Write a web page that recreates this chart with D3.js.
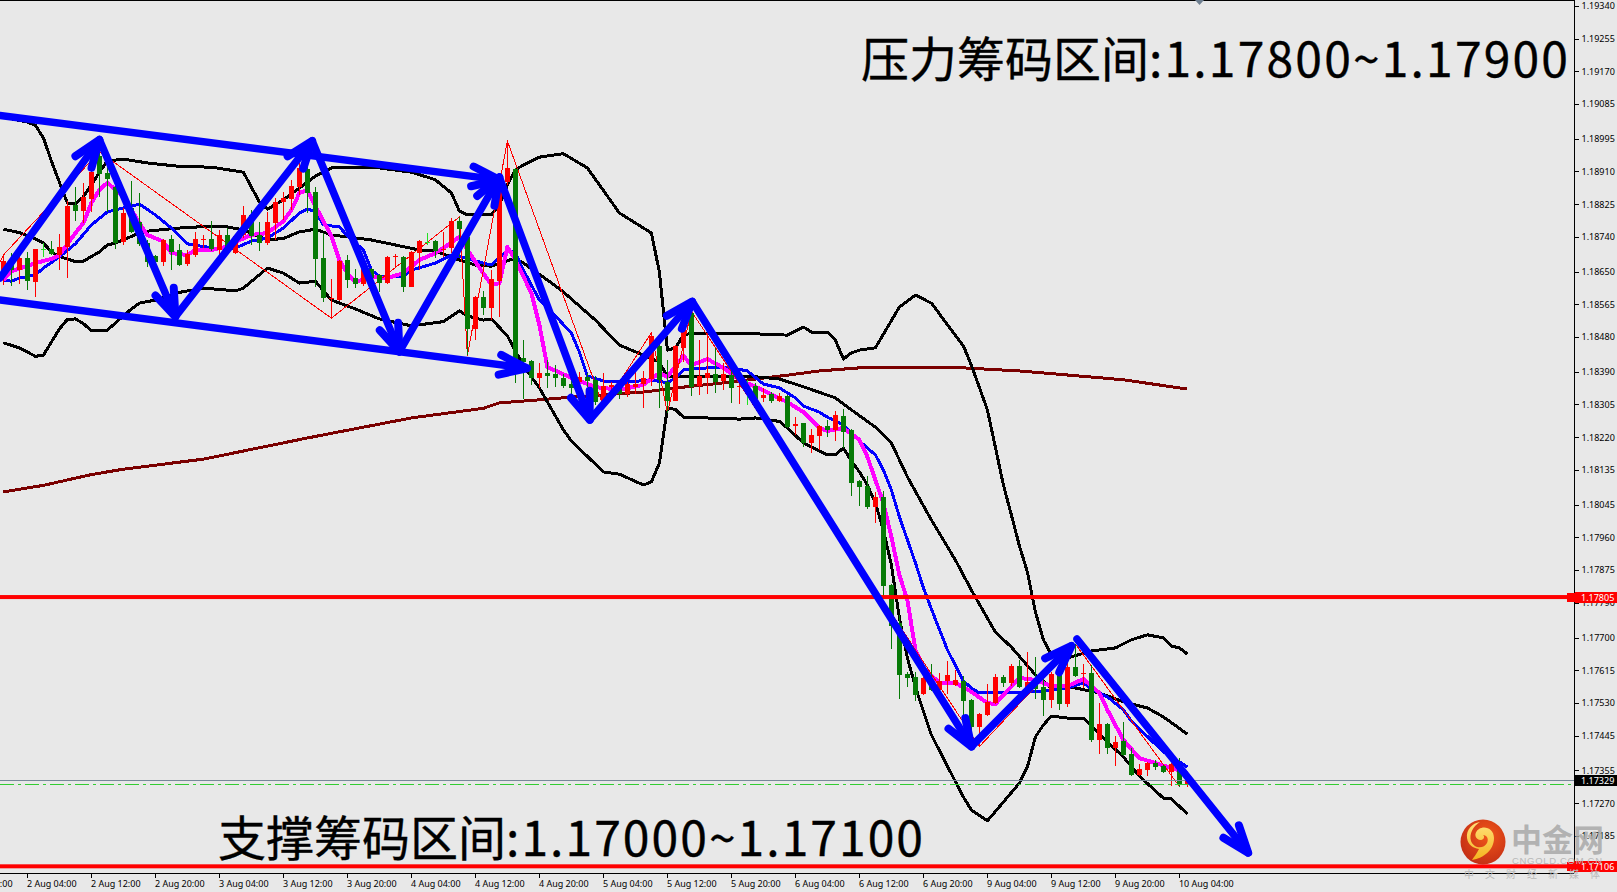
<!DOCTYPE html>
<html><head><meta charset="utf-8">
<style>
html,body{margin:0;padding:0;background:#e8e8e8;overflow:hidden}
svg{display:block}
.axis text{font-family:"Noto Sans",sans-serif;font-size:9px;fill:#000}
.axis path,.axis line{stroke:#000;stroke-width:1;shape-rendering:crispEdges}
.ind{fill:none;shape-rendering:crispEdges}
</style>
<script src="https://cdn.jsdelivr.net/npm/d3@7/dist/d3.min.js"></script>
</head><body>
<div id="chart"></div>
<script>
// All prices below are in points (1e-5 of EURUSD quote); bar = H1 candle number.
const opens=[118641,118678,118654,118686,118623,118708,118708,118693,118715,118823,118808,118838,118951,118905,118870,118728,118814,118779,118725,118691,118676,118735,118706,118670,118693,118732,118735,118706,118745,118697,118745,118797,118745,118725,118775,118830,118838,118870,118915,118857,118686,118578,118576,118680,118633,118618,118657,118641,118620,118688,118688,118611,118699,118728,118729,118706,118710,118781,118739,118501,118584,118556,118626,118883,118916,118425,118418,118374,118387,118384,118374,118358,118363,118376,118369,118314,118350,118356,118332,118350,118358,118371,118457,118364,118315,118451,118542,118353,118374,118384,118366,118381,118350,118348,118353,118322,118332,118315,118327,118250,118256,118206,118224,118249,118239,118275,118239,118106,118093,118039,118066,117836,117738,117605,117598,117553,117585,117564,117587,117577,117587,117538,117468,117499,117529,117598,117582,117626,117569,117587,117572,117538,117605,117527,117623,117604,117608,117434,117475,117413,117431,117398,117343,117356,117374,117366,117351,117356,117320];
const highs=[118693,118697,118702,118702,118709,118723,118729,118748,118834,118870,118879,118940,118961,118927,118872,118814,118886,118855,118732,118693,118734,118745,118722,118706,118754,118745,118782,118758,118762,118748,118820,118810,118779,118805,118841,118857,118888,118932,118940,118870,118750,118631,118680,118693,118657,118660,118660,118643,118690,118696,118690,118703,118732,118750,118731,118754,118789,118792,118745,118586,118600,118654,118880,118989,118919,118472,118420,118412,118420,118407,118384,118369,118388,118387,118379,118387,118364,118361,118364,118390,118393,118491,118481,118420,118459,118535,118547,118472,118490,118451,118412,118403,118377,118369,118361,118348,118338,118335,118329,118273,118258,118241,118252,118265,118288,118293,118241,118108,118119,118079,118080,117838,117758,117611,117611,117598,117631,117609,117639,117616,117600,117540,117503,117579,117605,117603,117631,117642,117662,117649,117608,117611,117607,117645,117683,117631,117629,117530,117478,117444,117481,117413,117372,117376,117382,117369,117374,117387,117335];
const lows=[118615,118613,118618,118602,118583,118687,118693,118654,118633,118781,118775,118805,118844,118804,118709,118719,118751,118716,118661,118674,118664,118654,118664,118664,118689,118710,118704,118680,118697,118696,118736,118719,118704,118719,118732,118784,118810,118849,118802,118609,118572,118529,118574,118607,118607,118613,118620,118598,118618,118662,118598,118609,118654,118719,118685,118687,118698,118689,118433,118472,118537,118524,118533,118875,118360,118319,118356,118347,118348,118350,118348,118325,118350,118350,118304,118299,118325,118319,118325,118332,118296,118354,118295,118284,118313,118416,118327,118330,118332,118334,118343,118308,118306,118304,118318,118311,118310,118311,118245,118226,118194,118178,118187,118221,118211,118192,118067,118041,118034,117998,117806,117669,117540,117571,117536,117551,117562,117561,117553,117575,117496,117439,117417,117497,117527,117572,117574,117569,117564,117540,117495,117517,117512,117520,117598,117569,117430,117398,117398,117366,117393,117340,117340,117340,117356,117348,117315,117313,117313];
const closes=[118677,118654,118686,118626,118709,118708,118696,118713,118821,118808,118844,118909,118903,118890,118723,118801,118754,118722,118676,118676,118732,118701,118667,118696,118735,118734,118708,118745,118702,118742,118797,118742,118723,118779,118831,118842,118872,118918,118853,118683,118582,118581,118678,118628,118618,118657,118633,118620,118688,118690,118611,118701,118729,118728,118704,118709,118781,118761,118501,118584,118555,118631,118870,118918,118422,118414,118373,118387,118379,118374,118352,118348,118376,118366,118311,118353,118356,118332,118358,118359,118374,118483,118369,118314,118457,118504,118350,118379,118386,118363,118384,118348,118353,118348,118320,118330,118314,118327,118247,118254,118204,118226,118249,118239,118278,118234,118102,118091,118038,118066,117834,117730,117603,117596,117551,117595,117564,117587,117603,117590,117535,117468,117501,117533,117598,117582,117626,117571,117585,117566,117538,117605,117527,117623,117600,117607,117434,117475,117413,117429,117395,117343,117359,117374,117363,117351,117372,117320,117330];

const bbUpperBars=[0,3,4,5,6,7,8,9,10,11,12,13,15,18,22,26,30,31,32,33,35,37,39,41,43,47,51,53,54,56,57,58,61,62,63,64,65,67,70,73,77,80,81,82,83,84,85,86,92,98,100,101,103,104,105,106,107,109,112,114,116,120,121,123,125,126,127,128,129,130,131,133,136,139,141,143,145,146,147,148];
const bbUpper=[119051,119038,119030,118997,118937,118882,118828,118825,118844,118875,118908,118937,118942,118932,118923,118921,118908,118869,118831,118812,118836,118867,118898,118919,118921,118919,118908,118895,118888,118854,118807,118797,118797,118823,118875,118914,118927,118947,118956,118919,118802,118763,118750,118649,118446,118452,118485,118490,118490,118485,118506,118493,118493,118472,118423,118439,118446,118452,118558,118589,118568,118457,118407,118291,118096,118018,117938,117870,117766,117694,117655,117647,117665,117673,117694,117707,117699,117678,117673,117657];
const bbLowerBars=[0,2,4,5,6,7,8,9,10,11,13,15,16,17,19,22,25,29,30,33,35,37,39,41,44,47,51,55,57,58,60,61,63,65,67,70,71,75,77,80,81,82,83,84,85,92,94,97,98,100,103,104,105,106,107,108,109,110,111,112,113,114,115,116,118,120,121,123,125,127,128,129,130,131,133,135,136,138,140,142,145,146,148];
const bbLower=[118465,118452,118430,118433,118467,118501,118526,118527,118515,118496,118498,118535,118553,118568,118576,118596,118607,118600,118607,118659,118646,118620,118625,118576,118553,118527,118509,118520,118548,118535,118524,118527,118483,118405,118348,118239,118210,118130,118124,118096,118104,118153,118296,118292,118272,118267,118270,118261,118244,118205,118174,118174,118192,118158,118130,118096,118049,117979,117888,117751,117647,117572,117509,117447,117366,117286,117252,117224,117273,117322,117364,117442,117473,117496,117491,117491,117470,117429,117390,117340,117283,117281,117242];
const bbMiddleBars=[0,2,4,5,6,7,9,10,12,13,14,17,18,22,26,28,30,33,35,37,39,41,43,46,49,52,54,57,59,61,64,65,68,70,74,77,80,82,83,85,94,97,100,104,106,109,111,113,116,119,121,124,126,129,131,134,137,140,143,145,148];
const bbMiddle=[118760,118751,118735,118724,118701,118689,118676,118677,118701,118719,118724,118750,118755,118763,118768,118766,118758,118732,118736,118753,118760,118745,118740,118732,118719,118706,118703,118680,118667,118664,118685,118672,118628,118597,118524,118459,118433,118415,118377,118377,118377,118371,118351,118322,118291,118246,118205,118117,118005,117901,117823,117714,117675,117603,117569,117569,117556,117533,117517,117494,117449];
const blueMaBars=[0,1,2,4,5,7,9,11,13,15,17,19,21,23,25,27,29,31,33,35,37,38,39,40,42,43,45,46,47,50,51,54,56,57,60,61,63,64,65,66,67,69,71,72,73,75,78,81,83,84,85,88,91,93,95,97,99,100,102,103,105,107,109,110,111,112,114,115,116,118,120,121,122,125,129,133,135,136,138,140,141,145,148];
const blueMa=[118628,118625,118633,118641,118659,118688,118722,118771,118805,118815,118825,118797,118763,118722,118715,118709,118711,118729,118737,118763,118802,118812,118806,118771,118766,118742,118706,118654,118638,118638,118654,118672,118693,118689,118672,118667,118706,118698,118654,118615,118576,118535,118490,118441,118379,118366,118363,118369,118361,118374,118395,118400,118400,118392,118358,118348,118322,118301,118285,118272,118252,118210,118174,118135,118083,118013,117894,117829,117774,117668,117587,117569,117556,117556,117559,117569,117582,117566,117546,117512,117483,117403,117364];
const magentaMaBars=[0,1,2,4,6,7,9,10,11,12,13,14,15,17,18,20,21,23,24,26,28,29,31,33,35,36,37,38,39,41,42,43,44,46,48,50,52,54,55,57,59,61,62,63,64,66,67,68,71,74,77,80,82,83,85,86,88,90,92,94,98,100,102,103,105,107,108,109,110,111,112,113,114,115,117,119,121,123,124,125,127,129,131,133,135,137,138,140,142,146,148];
const magentaMa=[118628,118651,118658,118672,118683,118693,118750,118776,118828,118862,118881,118862,118846,118776,118745,118728,118698,118693,118706,118706,118715,118727,118745,118750,118781,118810,118854,118862,118820,118742,118680,118646,118623,118636,118633,118646,118680,118698,118711,118740,118675,118615,118620,118714,118680,118594,118511,118402,118374,118350,118343,118356,118387,118377,118431,118407,118423,118400,118369,118351,118311,118285,118244,118236,118244,118213,118169,118109,118049,117961,117862,117797,117668,117621,117582,117582,117559,117530,117527,117551,117595,117590,117574,117574,117592,117556,117512,117434,117387,117361,117348];
const slowMaBars=[0,5,11,15,25,38,51,60,62,67,71,75,80,85,90,94,98,102,107,109,115,120,127,135,140,148];
const slowMa=[118078,118095,118123,118137,118163,118218,118270,118295,118309,118317,118324,118330,118337,118350,118361,118371,118381,118392,118400,118402,118402,118400,118392,118378,118369,118345];
const zigzagBars=[-1,0,12,41,57,58,63,75,81,83,86,122,134,147];
const zigzag=[118649,118693,118961,118529,118792,118433,118989,118299,118491,118284,118547,117417,117683,117313];

const yTickValues=[1.1934,1.19255,1.1917,1.19085,1.18995,1.1891,1.18825,1.1874,1.1865,1.18565,1.1848,1.1839,1.18305,1.1822,1.18135,1.18045,1.1796,1.17875,1.1779,1.177,1.17615,1.1753,1.17445,1.17355,1.1727,1.17185];
const xTickBars=[-5,3,11,19,27,35,43,51,59,67,75,83,91,99,107,115,123,131,139,147];
const xTickLabels=["1 Aug 20:00","2 Aug 04:00","2 Aug 12:00","2 Aug 20:00","3 Aug 04:00","3 Aug 12:00","3 Aug 20:00","4 Aug 04:00","4 Aug 12:00","4 Aug 20:00","5 Aug 04:00","5 Aug 12:00","5 Aug 20:00","6 Aug 04:00","6 Aug 12:00","6 Aug 20:00","9 Aug 04:00","9 Aug 12:00","9 Aug 20:00","10 Aug 04:00"];

const redLevels=[1.17805,1.17106];
const bidPrice=1.17329;
// hand-drawn arrows: [from bar, from price, to bar, to price]
const arrows=[
 [-0.43,119055,62,118888],[-0.43,118576,65.45,118399],
 [-0.43,118633,12,118992],[12,118992,21.5,118533],[21.5,118533,38.6,118989],
 [38.6,118989,49.5,118442],[49.5,118442,62,118895],[62,118895,73.3,118265],
 [73.3,118265,86.1,118572],[86.1,118572,121,117417],[121,117417,133.5,117678],
 [134.2,117696,155.6,117141]];
const titleTopCn="压力筹码区间",titleTopNum=":1.17800~1.17900";
const titleBottomCn="支撑筹码区间",titleBottomNum=":1.17000~1.17100";

const W=1617,H=892,right=1574,bottom=873;
const x=d3.scaleLinear().domain([0,148]).range([3.4,1187.4]);
const y=d3.scaleLinear().domain([1.19355,1.17355]).range([0,770.4]);
const pt=v=>v/1e5;
const svg=d3.select("#chart").append("svg").attr("width",W).attr("height",H);
svg.append("rect").attr("width",W).attr("height",H).attr("fill","#e8e8e8");

const defs=svg.append("defs");
defs.append("clipPath").attr("id","plot").append("rect").attr("width",right).attr("height",bottom);
const grad=defs.append("radialGradient").attr("id","logoG").attr("cx","0.6").attr("cy","0.35").attr("r","0.75");
grad.append("stop").attr("offset","0").attr("stop-color","#f0561a");
grad.append("stop").attr("offset","1").attr("stop-color","#bf2a14");
const grad2=defs.append("linearGradient").attr("id","swirlG").attr("x1","0").attr("y1","0").attr("x2","0").attr("y2","1");
grad2.append("stop").attr("offset","0").attr("stop-color","#ffe27a");
grad2.append("stop").attr("offset","1").attr("stop-color","#f5b31f");

const plot=svg.append("g").attr("clip-path","url(#plot)");
const lineGen=d3.line().x(d=>x(d[0])).y(d=>y(pt(d[1])));
function drawLine(bars,vals,color,w){
  plot.append("path").attr("class","ind").attr("d",lineGen(bars.map((b,k)=>[b,vals[k]])))
    .attr("stroke",color).attr("stroke-width",w).attr("stroke-linejoin","round");
}
drawLine(slowMaBars,slowMa,"#7a0000",3);
drawLine(bbUpperBars,bbUpper,"#000",3);
drawLine(bbLowerBars,bbLower,"#000",3);
drawLine(bbMiddleBars,bbMiddle,"#000",3);
drawLine(blueMaBars,blueMa,"#0000ff",3);
drawLine(magentaMaBars,magentaMa,"#ff00ff",4);
drawLine(zigzagBars,zigzag,"#ff0000",1);

// candles
const colorOf=i=>closes[i]===opens[i]?"#22e022":closes[i]>opens[i]?"#ff0000":"#067a06";
const candles=plot.append("g").selectAll("g").data(opens.map((_,i)=>i)).join("g");
candles.append("rect").attr("x",i=>Math.floor(x(i))).attr("width",1)
  .attr("y",i=>y(pt(highs[i]))).attr("height",i=>y(pt(lows[i]))-y(pt(highs[i])))
  .attr("fill",colorOf).attr("shape-rendering","crispEdges");
candles.append("rect").attr("x",i=>Math.floor(x(i))-2).attr("width",5)
  .attr("y",i=>y(pt(Math.max(opens[i],closes[i]))))
  .attr("height",i=>Math.max(1,Math.abs(y(pt(opens[i]))-y(pt(closes[i])))))
  .attr("fill",colorOf).attr("shape-rendering","crispEdges");

// horizontal levels
plot.selectAll(".lvl").data(redLevels).join("rect").attr("class","lvl").attr("x",0).attr("width",right)
  .attr("y",d=>y(d)-2).attr("height",4).attr("fill","#ff0000");
plot.append("line").attr("x1",0).attr("x2",right).attr("y1",Math.round(y(bidPrice))+.5).attr("y2",Math.round(y(bidPrice))+.5)
  .attr("stroke","#778899").attr("stroke-width",1);
plot.append("line").attr("x1",0).attr("x2",right).attr("y1",y(bidPrice)+4).attr("y2",y(bidPrice)+4)
  .attr("stroke","#32cd32").attr("stroke-width",1).attr("stroke-dasharray","14 4 3 4").attr("shape-rendering","crispEdges");

// axes
const gy=svg.append("g").attr("class","axis").attr("transform",`translate(${right+.5},0)`)
  .call(d3.axisRight(y).tickValues(yTickValues).tickFormat(d3.format(".5f")).tickSize(4).tickPadding(3));
gy.select(".domain").attr("d",`M0,0V${bottom}`);
const gx=svg.append("g").attr("class","axis").attr("transform",`translate(0,${bottom+.5})`)
  .call(d3.axisBottom(x).tickValues(xTickBars).tickFormat((d,k)=>xTickLabels[k]).tickSize(4).tickPadding(3));
gx.select(".domain").attr("d",`M0,0H${right}`);
gx.selectAll("text").attr("text-anchor","start").attr("dx","-1");
svg.append("line").attr("x1",0).attr("x2",right).attr("y1",.5).attr("y2",.5).attr("stroke","#000").attr("shape-rendering","crispEdges");

// shift marker
svg.append("path").attr("d","M1195,0H1204L1199.5,5Z").attr("fill","#6e7f90");

// price tags
const tag=(p,bg,fg)=>{
  const c=Math.round(y(p));
  svg.append("rect").attr("x",1575).attr("y",c-5.5).attr("width",W-1575).attr("height",11).attr("fill",bg).attr("shape-rendering","crispEdges");
  if(bg!=="#000") svg.append("rect").attr("x",1567).attr("y",c-4.5).attr("width",8).attr("height",9).attr("fill",bg).attr("shape-rendering","crispEdges");
  svg.append("text").attr("x",1581).attr("y",c+3.5).attr("font-family",'"Noto Sans",sans-serif').attr("font-size",9).attr("fill",fg).text(d3.format(".5f")(p));
};
tag(bidPrice,"#000","#fff");
redLevels.forEach(p=>tag(p,"#ff0000","#fff"));

// arrows
const arrowG=svg.append("g").attr("fill","none").attr("stroke","#0000ff").attr("stroke-linecap","round").attr("stroke-linejoin","round");
arrows.forEach(a=>{
  const [x0,y0,x1,y1]=[x(a[0]),y(pt(a[1])),x(a[2]),y(pt(a[3]))];
  const ang=Math.atan2(y0-y1,x0-x1), L=29, da=20*Math.PI/180;
  const b=s=>[x1+L*Math.cos(ang+s*da),y1+L*Math.sin(ang+s*da)];
  arrowG.append("path").attr("d",d3.line()([[x0,y0],[x1,y1]])).attr("stroke-width",7.5);
  arrowG.append("path").attr("d",d3.line()([b(1),[x1,y1],b(-1)])).attr("stroke-width",8);
});

// big text: Chinese part at natural advance, number part stretched to the reference width
const big=(cn,num,x0,yb,width)=>{
  const t=svg.append("text").attr("x",x0).attr("y",yb).attr("font-family",'"Noto Sans CJK SC",sans-serif')
    .attr("font-size",48).attr("fill","#000").attr("stroke","#000").attr("stroke-width",.35);
  t.append("tspan").text(cn);
  const n=t.append("tspan").text(num);
  const natural=n.node().getComputedTextLength();
  n.attr("letter-spacing",(width-288-natural)/(num.length-1));
};
big(titleTopCn,titleTopNum,861,77,707);
big(titleBottomCn,titleBottomNum,218,856,705);

// logo
const logo=svg.append("g");
logo.append("circle").attr("cx",1483).attr("cy",842).attr("r",22.5).attr("fill","url(#logoG)");
logo.append("path").attr("d","M1472,860C1484,858 1494,850 1494,838C1494,829 1485,825 1479,829C1473,833 1475,840 1481,840C1484,840 1485,836 1483,835C1487,835 1489,839 1487,843C1484,849 1474,849 1471,841C1469,834 1473,826 1480,822C1472,823 1466,830 1467,838C1468,845 1473,848 1479,849C1477,853 1474,857 1472,860Z").attr("fill","url(#swirlG)");
logo.append("text").attr("x",1511).attr("y",851).attr("font-family",'"Noto Sans CJK SC",sans-serif').attr("font-weight",700).attr("font-size",31).attr("fill","#a9a9a9").attr("fill-opacity",.85).text("中金网");
logo.append("text").attr("x",1512).attr("y",864).attr("font-family",'"Liberation Sans",sans-serif').attr("font-size",9.5).attr("fill","#b8b8b8").attr("textLength",90).text("CNGOLD.COM.CN");
logo.append("text").attr("x",1464).attr("y",878).attr("font-family",'"Noto Sans CJK SC",sans-serif').attr("font-size",10).attr("fill","#b9b9b9").attr("textLength",136).text("中文财经新媒体");
</script>
</body></html>
